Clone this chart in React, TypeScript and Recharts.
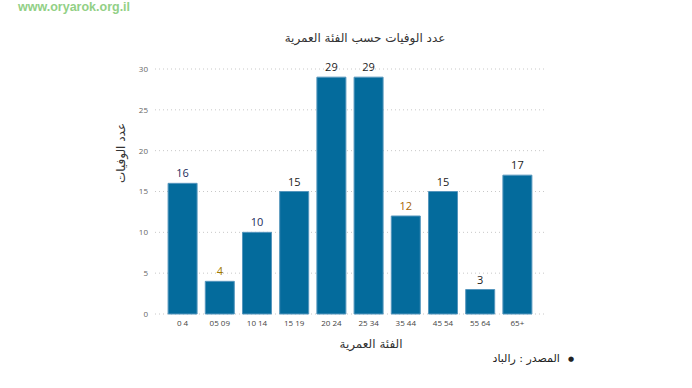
import { BarChart, Bar, XAxis, YAxis, CartesianGrid, LabelList, Label } from 'recharts';

const ageGroups = ['0 4', '05 09', '10 14', '15 19', '20 24', '25 34', '35 44', '45 54', '55 64', '65+'];
const deaths = [16, 4, 10, 15, 29, 29, 12, 15, 3, 17];
const yTicks = [0, 5, 10, 15, 20, 25, 30];

const chartTitle = 'عدد الوفيات حسب الفئة العمرية';
const yTitle = 'عدد الوفيات';
const xTitle = 'الفئة العمرية';
const sourceNote = 'المصدر : رالباد';
const watermark = 'www.oryarok.org.il';

// value label colours vary a bit in the original
const labelColors = ['#1c2b5c', '#a07800', '#1c2b5c', '#222', '#222', '#222', '#a86400', '#222', '#222', '#222'];

const data = ageGroups.map((g, i) => ({ group: g, deaths: deaths[i] }));

const arabicFont = '"DejaVu Sans", sans-serif';

export default function App() {
    return (
        <div style={styles.page}>
            <div style={styles.watermark}>{watermark}</div>
            <div style={styles.title}>{chartTitle}</div>
            <BarChart
                width={692}
                height={388}
                data={data}
                margin={{ top: 69, right: 147, bottom: 50, left: 88 }}
                barCategoryGap="11%"
            >
                <CartesianGrid vertical={false} strokeDasharray="1 3" stroke="#c8c8c8" />
                <XAxis
                    dataKey="group"
                    axisLine={false}
                    tickLine={false}
                    tickSize={0}
                    tickMargin={6}
                    height={24}
                    padding={{ left: 9, right: 9 }}
                    interval={0}
                    tick={{ fontSize: 8, fill: '#444', fontFamily: 'Open Sans' }}
                >
                    <Label
                        content={({ viewBox }: any) => (
                            <text
                                x={viewBox.x + viewBox.width / 2 + 21}
                                y={viewBox.y + 34}
                                textAnchor="middle"
                                fontSize={12}
                                fill="#333"
                                fontFamily={arabicFont}
                            >
                                {xTitle}
                            </text>
                        )}
                    />
                </XAxis>
                <YAxis
                    domain={[0, 30]}
                    ticks={yTicks}
                    axisLine={false}
                    tickLine={false}
                    tickSize={0}
                    tickMargin={7}
                    width={67}
                    tick={{ fontSize: 8, fill: '#666', fontFamily: 'Open Sans' }}
                >
                    <Label
                        content={() => (
                            <text
                                x={121}
                                y={153}
                                transform="rotate(-90 121 153)"
                                textAnchor="middle"
                                dominantBaseline="central"
                                fontSize={12}
                                fill="#333"
                                fontFamily={arabicFont}
                            >
                                {yTitle}
                            </text>
                        )}
                    />
                </YAxis>
                <Bar dataKey="deaths" fill="#046b9c" stroke="#5596bd" strokeWidth={1} isAnimationActive={false}>
                    <LabelList
                        dataKey="deaths"
                        content={(p: any) => (
                            <text
                                x={p.x + p.width / 2}
                                y={p.y - 6}
                                textAnchor="middle"
                                fontSize={11}
                                fontFamily="Open Sans"
                                fill={labelColors[p.index] || '#222'}
                            >
                                {p.value}
                            </text>
                        )}
                    />
                </Bar>
            </BarChart>
            <div style={styles.source}>
                <span>{sourceNote}</span>
                <span style={styles.bullet}>●</span>
            </div>
        </div>
    );
}

const styles: Record<string, React.CSSProperties> = {
    page: {
        position: 'absolute',
        left: 0,
        top: 0,
        width: 692,
        height: 388,
        background: '#fff',
    },
    watermark: {
        position: 'absolute',
        left: 18,
        top: 0,
        fontSize: 12.5,
        fontWeight: 600,
        color: '#92d086',
        fontFamily: 'Liberation Sans, Arial, sans-serif',
    },
    title: {
        position: 'absolute',
        left: 265,
        width: 200,
        top: 31,
        textAlign: 'center',
        fontSize: 12,
        color: '#333',
        fontFamily: arabicFont,
        zIndex: 1,
    },
    source: {
        position: 'absolute',
        right: 118,
        top: 352,
        fontSize: 11,
        color: '#222',
        fontFamily: arabicFont,
        display: 'flex',
        alignItems: 'center',
        gap: 8,
        direction: 'ltr',
    },
    bullet: {
        fontSize: 7,
    },
};
